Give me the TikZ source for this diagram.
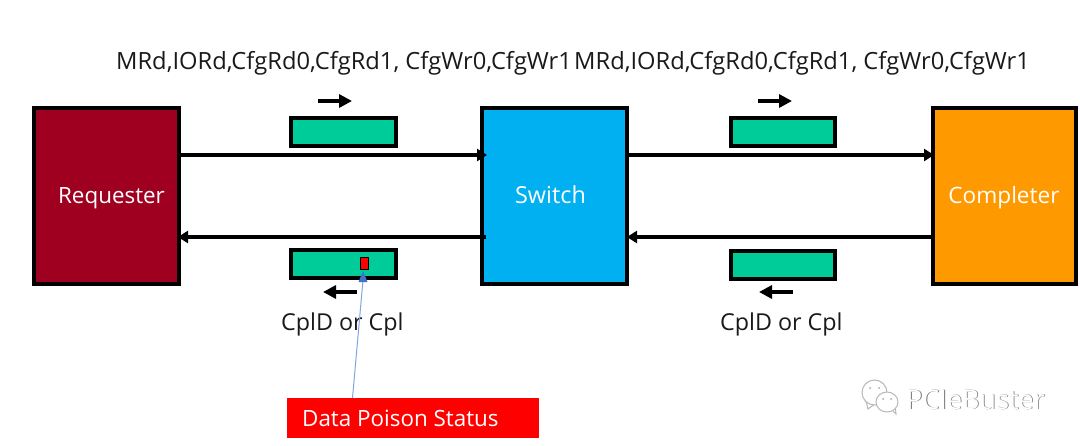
\documentclass[tikz,border=0pt]{standalone}
\usepackage{fontspec}
\setmainfont{Open Sans}
\usetikzlibrary{arrows.meta}
\definecolor{reqred}{RGB}{160,0,32}
\definecolor{swblue}{RGB}{0,176,240}
\definecolor{cmplorange}{RGB}{255,153,0}
\definecolor{pktgreen}{RGB}{0,204,153}
\definecolor{linkblue}{RGB}{130,165,225}
\definecolor{tipblue}{RGB}{68,114,196}
\tikzset{
  x=1pt,y=-1pt,
  agent/.style={draw=black,line width=4pt,text=white,inner sep=0pt,minimum height=176pt},
  agentlabel/.style={text=white,inner sep=0pt,anchor=base},
  packet/.style={draw=black,line width=4pt,fill=pktgreen,inner sep=0pt,minimum height=28pt},
  flow/.style={draw=black,line width=3.2pt,-{Triangle[length=10pt,width=12pt]},shorten >=-1pt},
  dirmark/.style={draw=black,line width=3.4pt,-{Triangle[length=13pt,width=13pt]}},
  caption/.style={font=\fontsize{23.7}{28}\selectfont,text=black!90,inner sep=0pt,anchor=base west},
  bubble/.style={draw=black!28,fill=white,line width=1pt},
  eye/.style={fill=black!35}
}
\begin{document}
\begin{tikzpicture}
\useasboundingbox (0,0) rectangle (1080,445);
\fill[white] (0,0) rectangle (1080,445);

% Agents
\node[agent,fill=reqred,minimum width=145pt] (req) at (106.5,196) {};
\node[agent,fill=swblue,minimum width=145pt] (sw) at (554,196) {};
\node[agent,fill=cmplorange,minimum width=143pt] (cmp) at (1004.5,196) {};
\node[agentlabel,font=\fontsize{22.4}{27}\selectfont] (reqt) at (111.5,203) {Requester};
\node[agentlabel,font=\fontsize{23.4}{28}\selectfont] (swt) at (550.5,203) {Switch};
\node[agentlabel,font=\fontsize{22.6}{27}\selectfont] (cmpt) at (1004,203) {Completer};

% Packets
\node[packet,minimum width=105pt] (p1) at (343.5,131.5) {};
\node[packet,minimum width=104pt] (p2) at (783,131.5) {};
\node[packet,minimum width=105pt] (p3) at (343.5,263.5) {};
\node[packet,minimum width=104pt] (p4) at (783,264.5) {};

% Poison marker inside the returning packet
\node[draw=black,line width=1pt,fill=red,inner sep=0pt,minimum width=8pt,minimum height=12pt] (poison) at (364.5,263.5) {};

% Links between agents
\coordinate (a1s) at (180,155);
\coordinate (a1e) at (486,155);
\coordinate (a2s) at (628,155);
\coordinate (a2e) at (933,155);
\coordinate (b1s) at (486,237);
\coordinate (b1e) at (179,237);
\coordinate (b2s) at (933,237);
\coordinate (b2e) at (628,237);
\draw[flow] (a1s) -- (a1e);
\draw[flow] (a2s) -- (a2e);
\draw[flow] (b1s) -- (b1e);
\draw[flow] (b2s) -- (b2e);

% Direction marks next to the packets
\coordinate (m1s) at (318,101);
\coordinate (m1e) at (352,101);
\coordinate (m2s) at (758,101);
\coordinate (m2e) at (792,101);
\coordinate (m3s) at (357,292);
\coordinate (m3e) at (323,292);
\coordinate (m4s) at (793,292);
\coordinate (m4e) at (759,292);
\draw[dirmark] (m1s) -- (m1e);
\draw[dirmark] (m2s) -- (m2e);
\draw[dirmark] (m3s) -- (m3e);
\draw[dirmark] (m4s) -- (m4e);

% Labels
\node[caption] (t1) at (116,69) {MRd,IORd,CfgRd0,CfgRd1, CfgWr0,CfgWr1};
\node[caption] (t2) at (574,69) {MRd,IORd,CfgRd0,CfgRd1, CfgWr0,CfgWr1};
\node[caption,font=\fontsize{23.3}{28}\selectfont] (c1) at (281,330) {CplD or Cpl};
\node[caption,font=\fontsize{23.3}{28}\selectfont] (c2) at (720,330) {CplD or Cpl};

% Status callout
\node[fill=red,inner sep=0pt,minimum width=252pt,minimum height=40pt] (status) at (413,418) {};
\node[text=white,font=\fontsize{22.4}{27}\selectfont,inner sep=0pt,anchor=base west] (statust) at (302,426) {Data Poison Status};
\draw[linkblue,line width=1pt] (352.5,398) -- (363,280);
\fill[tipblue] (363,271) -- (367.5,282) -- (358.5,282) -- cycle;

% Watermark: two overlapping chat bubbles and white lettering with a faint grey edge
\draw[bubble] (866,401) -- (868,409) -- (876,403);
\draw[bubble] (874.5,392.5) ellipse (12.5pt and 12.5pt);
\fill[eye] (870,388) circle (1pt);
\fill[eye] (879,388) circle (1pt);
\draw[bubble] (890,408) -- (896,414) -- (895,405);
\draw[bubble] (887,402) ellipse (11pt and 10pt);
\fill[eye] (883,399) circle (1pt);
\fill[eye] (891,399) circle (1pt);
\node[font=\fontsize{27}{32}\selectfont,text=black!55,inner sep=0pt,anchor=base west] (wmshadow) at (906.8,409.8) {PCIeBuster};
\node[font=\fontsize{27}{32}\selectfont,text=white,inner sep=0pt,anchor=base west] (wm) at (906,409) {PCIeBuster};
\end{tikzpicture}
\end{document}
